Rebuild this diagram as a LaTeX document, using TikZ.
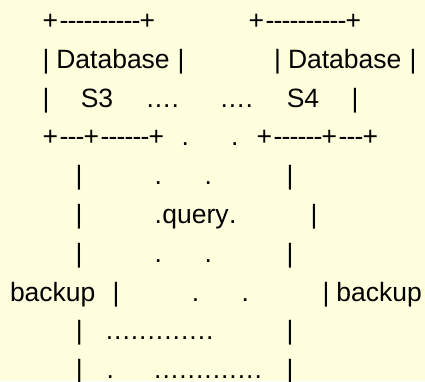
\documentclass[tikz,border=0pt]{standalone}
\usepackage{fontspec}
\setmainfont{Liberation Sans}
\definecolor{bgyellow}{HTML}{FFFFDD}
\newcommand\Pl{+\kern1.5pt}
\newcommand\Da{-\kern-0.83pt}
\newcommand\Dt{\kern0.5pt.\kern0.5pt}
\begin{document}
\begin{tikzpicture}[x=1pt,y=-1pt,
  txt/.style={anchor=base west,inner sep=0pt,outer sep=0pt,
    font=\fontsize{26.5}{32}\selectfont,text=black}]
\fill[bgyellow] (0,0) rectangle (425,381);
\useasboundingbox (0,0) rectangle (425,381);
% line 1
\node[txt] (l1a) at (42.6,29.5) {\Pl\Da\Da\Da\Da\Da\Da\Da\Da\Da\Da+};
\node[txt] (l1b) at (248.6,29.5) {\Pl\Da\Da\Da\Da\Da\Da\Da\Da\Da\Da+};
% line 2
\node[txt] (l2a) at (42.6,68.3) {|};
\node[txt] (l2b) at (56.3,68.3) {Database};
\node[txt] (l2c) at (177.6,68.3) {|};
\node[txt] (l2d) at (274.1,68.3) {|};
\node[txt] (l2e) at (288,68.3) {Database};
\node[txt] (l2f) at (409.6,68.3) {|};
% line 3
\node[txt] (l3a) at (42.6,107.1) {|};
\node[txt] (l3b) at (80.8,107.1) {S3};
\node[txt] (l3c) at (146,107.1) {\Dt\Dt\Dt\Dt};
\node[txt] (l3d) at (220,107.1) {\Dt\Dt\Dt\Dt};
\node[txt] (l3e) at (286.8,107.1) {S4};
\node[txt] (l3f) at (351.6,107.1) {|};
% line 4
\node[txt] (l4a) at (42.6,145.9) {\Pl\Da\Da\Da\Pl\Da\Da\Da\Da\Da\Da+};
\node[txt] (l4b) at (181.6,145.9) {.};
\node[txt] (l4c) at (231,145.9) {.};
\node[txt] (l4d) at (256.6,145.9) {\Pl\Da\Da\Da\Da\Da\Da\Pl\Da\Da\Da+};
% line 5
\node[txt] (l5a) at (75.6,184.7) {|};
\node[txt] (l5b) at (154.6,184.7) {.};
\node[txt] (l5c) at (204.6,184.7) {.};
\node[txt] (l5d) at (286.6,184.7) {|};
% line 6
\node[txt] (l6a) at (75.6,223.5) {|};
\node[txt] (l6b) at (154,223.5) {\Dt query\Dt};
\node[txt] (l6c) at (310.6,223.5) {|};
% line 7
\node[txt] (l7a) at (75.6,262.3) {|};
\node[txt] (l7b) at (154.6,262.3) {.};
\node[txt] (l7c) at (204.6,262.3) {.};
\node[txt] (l7d) at (286.6,262.3) {|};
% line 8
\node[txt] (l8a) at (10,301.1) {backup};
\node[txt] (l8b) at (112.6,301.1) {|};
\node[txt] (l8c) at (191.9,301.1) {.};
\node[txt] (l8d) at (241.6,301.1) {.};
\node[txt] (l8e) at (322.6,301.1) {|};
\node[txt] (l8f) at (336.3,301.1) {backup};
% line 9
\node[txt] (l9a) at (75.9,339.9) {|};
\node[txt] (l9b) at (105.3,339.9) {\Dt\Dt\Dt\Dt\Dt\Dt\Dt\Dt\Dt\Dt\Dt\Dt\Dt};
\node[txt] (l9c) at (286.6,339.9) {|};
% line 10
\node[txt] (l10a) at (75.9,378.7) {|};
\node[txt] (l10b) at (106.6,378.7) {.};
\node[txt] (l10c) at (153.7,378.7) {\Dt\Dt\Dt\Dt\Dt\Dt\Dt\Dt\Dt\Dt\Dt\Dt\Dt};
\node[txt] (l10d) at (286.6,378.7) {|};
\end{tikzpicture}
\end{document}
